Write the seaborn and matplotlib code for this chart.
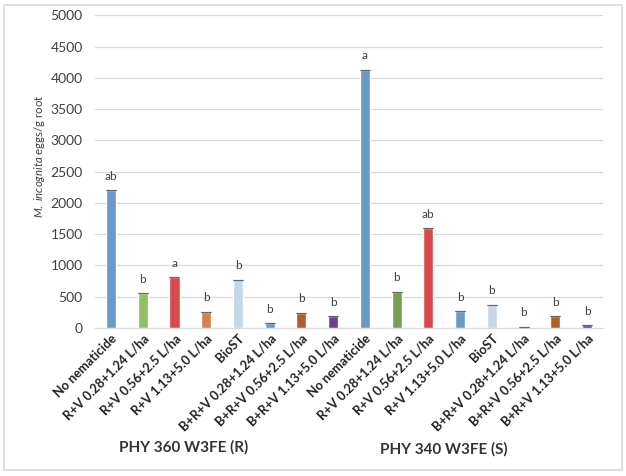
import numpy as np
import pandas as pd
import matplotlib
matplotlib.use("Agg")
import matplotlib.pyplot as plt
import seaborn as sns

# Data
treatments = ["No nematicide", "R+V 0.28+1.24 L/ha", "R+V 0.56+2.5 L/ha", "R+V 1.13+5.0 L/ha",
              "BioST", "B+R+V 0.28+1.24 L/ha", "B+R+V 0.56+2.5 L/ha", "B+R+V 1.13+5.0 L/ha"]
cultivars = ["PHY 360 W3FE (R)", "PHY 340 W3FE (S)"]
eggs_360 = [2205, 560, 810, 260, 770, 80, 245, 185]
eggs_340 = [4130, 580, 1600, 265, 370, 20, 185, 40]
letters_360 = ["ab", "b", "a", "b", "b", "b", "b", "b"]
letters_340 = ["a", "b", "ab", "b", "b", "b", "b", "b"]
colors_360 = ["#5B9BD5", "#92D050", "#EE3338", "#ED7D31", "#BDD7EE", "#5B9BD5", "#C55A11", "#7030A0"]
colors_340 = ["#5B9BD5", "#70AD47", "#EE3338", "#5B9BD5", "#BDD7EE", "#A5A5A5", "#C55A11", "#7030A0"]

df = pd.DataFrame({
    "label": treatments * 2,
    "eggs": eggs_360 + eggs_340,
    "letter": letters_360 + letters_340,
    "color": colors_360 + colors_340,
})
df["pos"] = [str(i) for i in range(len(df))]

sns.set_style("white")
plt.rcParams["font.family"] = ["Lato", "DejaVu Sans"]
plt.rcParams["mathtext.fontset"] = "custom"
plt.rcParams["mathtext.it"] = "Lato:italic"
plt.rcParams["mathtext.rm"] = "Lato"

fig = plt.figure(figsize=(6.26, 4.76), dpi=100)
ax = fig.add_axes([0.152, 0.311, 0.811, 0.657])

sns.barplot(data=df, x="pos", y="eggs", hue="pos", palette=list(df["color"]),
            legend=False, width=0.32, ax=ax, zorder=3)

# thin caps on top of the bars
ax.errorbar(range(len(df)), df["eggs"], yerr=0, fmt="none", ecolor="#666666",
            capsize=3.3, capthick=0.8, elinewidth=0, zorder=4)

for i, (v, l) in enumerate(zip(df["eggs"], df["letter"])):
    ax.annotate(l, (i, v), xytext=(0, 6), textcoords="offset points",
                ha="center", va="bottom", fontsize=8.5, color="#404040")

ax.set_xlim(-0.5, 15.5)
ax.set_ylim(0, 5000)
ax.set_yticks(np.arange(0, 5001, 500))
ax.yaxis.grid(True, color="#D9D9D9", linewidth=0.9, zorder=0)
ax.set_axisbelow(True)
for s in ["top", "right", "left"]:
    ax.spines[s].set_visible(False)
ax.spines["bottom"].set_color("#D9D9D9")
ax.tick_params(axis="y", length=0, labelsize=10, labelcolor="#404040", pad=9)
ax.tick_params(axis="x", length=0, pad=3)
ax.set_xticks(range(len(df)))
ax.set_xticklabels(df["label"], rotation=45, ha="right", rotation_mode="anchor",
                   fontsize=9.2, fontweight="bold", color="#222222")
ax.set_xlabel("")
ax.set_ylabel(r"$\it{M.\ incognita}$ eggs/g root", fontsize=8.2, color="#404040")
ax.yaxis.set_label_coords(-0.094, 0.55)

fig.text(0.294, 0.061, cultivars[0], ha="center", va="center", fontsize=11,
         fontweight="bold", color="#333333")
fig.text(0.709, 0.057, cultivars[1], ha="center", va="center", fontsize=11,
         fontweight="bold", color="#333333")

# light frame round the whole chart
fig.patches.append(plt.Rectangle((0.006, 0.012), 0.988, 0.978, transform=fig.transFigure,
                                 fill=False, edgecolor="#D9D9D9", linewidth=1.2))

fig.savefig("out.png", dpi=100)
